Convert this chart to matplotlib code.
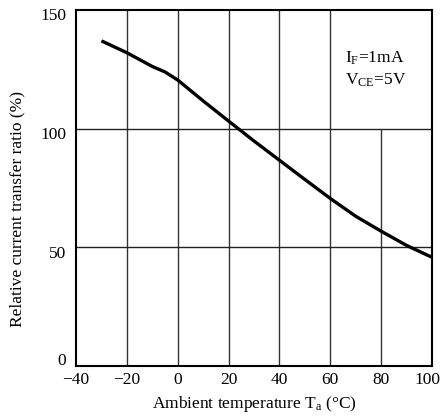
import matplotlib
matplotlib.use("Agg")
import matplotlib.pyplot as plt
from matplotlib.transforms import ScaledTranslation

temperature = [-30, -20, -10, -5, 0, 10, 20, 30, 40, 50, 60, 70, 80, 90, 100]
ratio = [137, 132, 126.2, 123.9, 120.5, 111.7, 103.2, 94.8, 86.7, 78.6, 70.6, 63.1, 56.8, 50.8, 45.8]
xticks = [-40, -20, 0, 20, 40, 60, 80, 100]
yticks = [0, 50, 100, 150]

plt.rcParams['font.family'] = ['Liberation Serif', 'DejaVu Serif']
plt.rcParams['mathtext.fontset'] = 'custom'
plt.rcParams['mathtext.rm'] = 'Liberation Serif'
plt.rcParams['mathtext.it'] = 'Liberation Serif:italic'

fs = 12.5
fig = plt.figure(figsize=(4.43, 4.18), dpi=100)
ax = fig.add_axes([76/443, 1-366/418, (432-76)/443, (366-10)/418])
ax.set_xlim(-40, 100)
ax.set_ylim(0, 150)

# grid
for x in [-20, 0, 20, 40, 60]:
    ax.vlines(x, 0, 150, color='#333333', lw=1.0, zorder=1)
ax.vlines(80, 0, 100, color='#333333', lw=1.0, zorder=1)
for y in [50, 100]:
    ax.hlines(y, -40, 100, color='#222222', lw=1.0, zorder=1)

ax.plot(temperature, ratio, color='black', lw=2.4, solid_capstyle='butt', zorder=3)

ax.set_xticks(xticks)
ax.set_xticklabels([str(v).replace('-', '\u2212') for v in xticks])
ax.set_yticks(yticks)
ax.tick_params(axis='x', length=0, labelsize=fs, pad=4)
ax.tick_params(axis='y', length=0, labelsize=fs, pad=7)
for s in ax.spines.values():
    s.set_linewidth(1.5)
    s.set_color('black')

# shift y tick labels down slightly like the reference, "0" up
for lab, v in zip(ax.get_yticklabels(), yticks):
    dy = 5/72 if v == 0 else -3/72
    lab.set_transform(lab.get_transform() + ScaledTranslation(0, dy, fig.dpi_scale_trans))
last = ax.get_xticklabels()[-1]
last.set_transform(last.get_transform() + ScaledTranslation(-3/72, 0, fig.dpi_scale_trans))

ax.set_xlabel(r'Ambient temperature T$_\mathrm{a}$ (°C)', fontsize=fs, labelpad=5)
ax.set_ylabel('Relative current transfer ratio (%)', fontsize=fs)
ax.yaxis.set_label_coords((25-76)/356, (366-209)/356)

ax.text(0.756, 0.865, r'I$_\mathrm{F}$=1mA', transform=ax.transAxes, ha='left', va='center', fontsize=fs)
ax.text(0.756, 0.803, r'V$_\mathrm{CE}$=5V', transform=ax.transAxes, ha='left', va='center', fontsize=fs)

fig.savefig('out.png', dpi=100)
